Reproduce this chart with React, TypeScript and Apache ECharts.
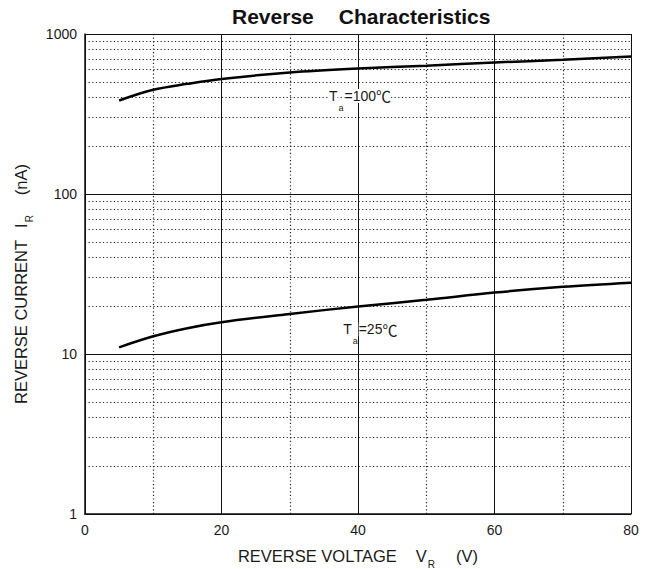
import React, { useEffect, useRef } from "react";
import * as echarts from "echarts";

const FONT = "'Liberation Sans', Arial, sans-serif";
const CJK = "'Noto Sans CJK SC', 'DejaVu Sans', sans-serif";

// Data
const voltage = [5, 10, 15, 20, 30, 40, 50, 60, 70, 80];
const current100C = [384, 448, 488, 524, 574, 608, 634, 664, 690, 724];
const current25C = [11.0, 12.9, 14.5, 15.8, 17.8, 19.8, 21.8, 24.2, 26.3, 27.9];

// Grid / ticks
const xMajorStep = 20;
const xMinorLines = [10, 30, 50, 70];
const yMinorLines = [2, 3, 4, 5, 6, 7, 8, 9, 20, 30, 40, 50, 60, 70, 80, 90, 200, 300, 400, 500, 600, 700, 800, 900];

// Annotation anchors (data coordinates)
const label100At = [40.3, 410];
const label25At = [41.8, 14.3];

const labelRich = {
  t: { fontSize: 14, lineHeight: 16, fontFamily: FONT, color: "#1a1a1a", backgroundColor: "#ffffff" },
  s: { fontSize: 9, lineHeight: 10, padding: [24, 1, 0, 1], fontFamily: FONT, color: "#1a1a1a" },
  c: { fontSize: 15, lineHeight: 16, fontFamily: CJK, color: "#1a1a1a", backgroundColor: "#ffffff" },
};

export default function App() {
  const ref = useRef<HTMLDivElement>(null);
  useEffect(() => {
    if (!ref.current) return;
    const chart = echarts.init(ref.current, null, { renderer: "svg" });
    const option: any = {
      animation: false,
      backgroundColor: "#ffffff",
      title: {
        text: "{a|Reverse}{b|Characteristics}",
        left: 232,
        top: 5,
        padding: 0,
        textStyle: {
          rich: {
            a: { fontSize: 21, fontWeight: "bold", fontFamily: FONT, color: "#111", lineHeight: 22 },
            b: { fontSize: 21, fontWeight: "bold", fontFamily: FONT, color: "#111", lineHeight: 22, padding: [0, 0, 0, 25] },
          },
        },
      },
      grid: { left: 85, right: 23, top: 34, bottom: 55, containLabel: false, outerBoundsMode: "none" },
      xAxis: {
        type: "value",
        min: 0,
        max: 80,
        interval: xMajorStep,
        name: "{n|REVERSE VOLTAGE}{v|V}{s|R}{p|(V)}",
        nameLocation: "middle",
        nameGap: 25,
        nameTextStyle: {
          rich: {
            n: { fontSize: 16.5, lineHeight: 18, fontFamily: FONT, color: "#1a1a1a" },
            v: { fontSize: 16.5, lineHeight: 18, fontFamily: FONT, color: "#1a1a1a", padding: [0, 0, 0, 19] },
            s: { fontSize: 10, lineHeight: 10, fontFamily: FONT, color: "#1a1a1a", padding: [18, 0, 0, 1] },
            p: { fontSize: 16.5, lineHeight: 18, fontFamily: FONT, color: "#1a1a1a", padding: [0, 0, 0, 21] },
          },
        },
        axisLine: { show: true, lineStyle: { color: "#111", width: 1.5 } },
        axisTick: { show: false },
        axisLabel: { fontSize: 14, color: "#1a1a1a", fontFamily: FONT, margin: 9 },
        splitLine: { show: true, lineStyle: { color: "#111", width: 1 } },
      },
      yAxis: {
        type: "log",
        logBase: 10,
        min: 1,
        max: 1000,
        name: "{n|REVERSE CURRENT}{v|I}{s|R}{p|(nA)}",
        nameLocation: "middle",
        nameRotate: 90,
        nameGap: 48,
        nameTextStyle: {
          padding: [0, 20, 0, 0],
          rich: {
            n: { fontSize: 16.5, lineHeight: 18, fontFamily: FONT, color: "#1a1a1a" },
            v: { fontSize: 16.5, lineHeight: 18, fontFamily: FONT, color: "#1a1a1a", padding: [0, 0, 0, 12] },
            s: { fontSize: 10, lineHeight: 10, fontFamily: FONT, color: "#1a1a1a", padding: [18, 0, 0, 1] },
            p: { fontSize: 16.5, lineHeight: 18, fontFamily: FONT, color: "#1a1a1a", padding: [0, 0, 0, 20] },
          },
        },
        axisLine: { show: true, lineStyle: { color: "#111", width: 1.5 } },
        axisTick: { show: false },
        minorTick: { show: false },
        axisLabel: {
          fontSize: 14,
          color: "#1a1a1a",
          fontFamily: FONT,
          margin: 8,
          formatter: (v: number) => String(Math.round(v)),
        },
        splitLine: { show: true, lineStyle: { color: "#111", width: 1 } },
      },
      series: [
        {
          name: "Ta=100℃",
          type: "line",
          data: voltage.map((v, i) => [v, current100C[i]]),
          smooth: 0.35,
          symbol: "none",
          lineStyle: { color: "#000", width: 2.5 },
          z: 5,
          markLine: {
            silent: true,
            symbol: ["none", "none"],
            z: 1,
            label: { show: false },
            emphasis: { disabled: true },
            lineStyle: { type: [1.2, 2.4], color: "#222", width: 1.2 },
            data: [
              ...xMinorLines.map((v) => ({ xAxis: v })),
              ...yMinorLines.map((v) => ({ yAxis: v })),
            ],
          },
          markPoint: {
            silent: true,
            symbol: "circle",
            symbolSize: 0,
            z: 6,
            label: {
              show: true,
              position: "inside",
              formatter: "{t|T}{s|a}{t|=100}{c|℃}",
              rich: labelRich,
            },
            data: [{ coord: label100At }],
          },
        },
        {
          name: "Ta=25℃",
          type: "line",
          data: voltage.map((v, i) => [v, current25C[i]]),
          smooth: 0.35,
          symbol: "none",
          lineStyle: { color: "#000", width: 2.5 },
          z: 5,
          markPoint: {
            silent: true,
            symbol: "circle",
            symbolSize: 0,
            z: 6,
            label: {
              show: true,
              position: "inside",
              formatter: "{t|T}{s|a}{t|=25}{c|℃}",
              rich: labelRich,
            },
            data: [{ coord: label25At }],
          },
        },
      ],
    };
    chart.setOption(option);
    return () => chart.dispose();
  }, []);
  return (
    <div
      ref={ref}
      style={{ position: "fixed", left: 0, top: 0, width: 654, height: 569, background: "#fff" }}
    />
  );
}
